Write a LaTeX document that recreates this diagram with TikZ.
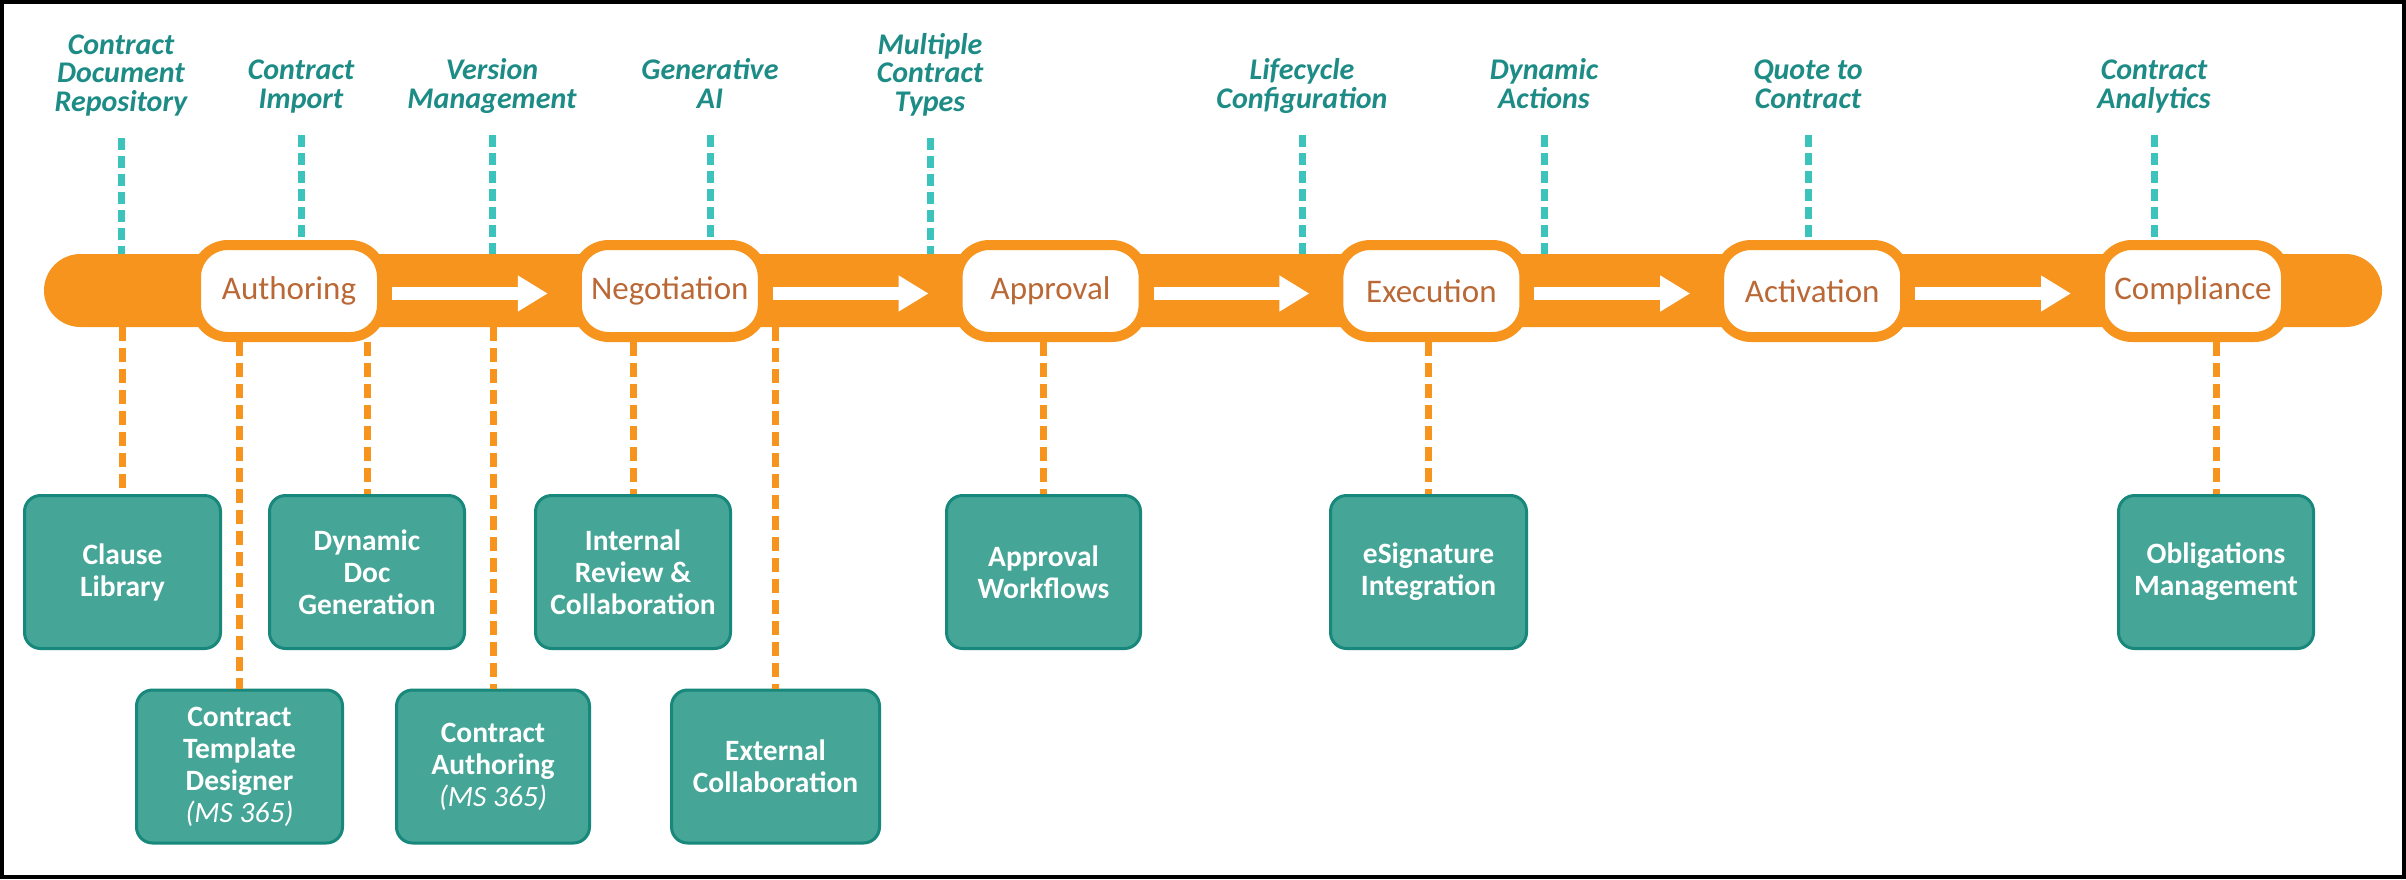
\documentclass[tikz,border=0pt]{standalone}
\usepackage{fontspec}
\setmainfont{Carlito}
\usetikzlibrary{arrows.meta}
\definecolor{bandorange}{HTML}{F7941E}
\definecolor{pilltext}{HTML}{BA6835}
\definecolor{tealtext}{HTML}{1E8C86}
\definecolor{tealdash}{HTML}{3CC4BC}
\definecolor{boxfill}{HTML}{45A596}
\definecolor{boxedge}{HTML}{17887B}
\begin{document}
\begin{tikzpicture}[x=1pt,y=-1pt,
  bandshape/.style={fill=bandorange, rounded corners=36.5pt, minimum width=2338pt, minimum height=73pt, inner sep=0pt, outer sep=0pt},
  pill/.style={draw=bandorange, fill=white, line width=10pt, rounded corners=32pt, minimum width=186pt, minimum height=92pt, inner sep=0pt, font=\fontsize{33}{36}\selectfont, text=pilltext},
  toplabel/.style={font=\fontsize{30}{28.5}\selectfont\bfseries\itshape, text=tealtext, align=center, inner sep=0pt, anchor=south},
  feature/.style={draw=boxedge, fill=boxfill, line width=3pt, rounded corners=16pt, minimum height=153pt, inner sep=0pt, text=white, align=center, font=\fontsize{29.5}{32}\selectfont\bfseries},
  tealline/.style={draw=tealdash, line width=7pt, dash pattern=on 12pt off 6pt, shorten <=18pt},
  orangeline/.style={draw=bandorange, line width=7pt, dash pattern=on 14pt off 7pt},
  flow/.style={draw=white, line width=13pt, -{Triangle[length=30pt,width=34pt]}, shorten <=5pt, shorten >=24pt},
]
\useasboundingbox (0,0) rectangle (2406,879);
\fill[white] (0,0) rectangle (2406,879);

% main band
\node[bandshape] (band) at (1213,290.5) {};

% stage pills
\node[pill] (auth)  at (289,291)    {Authoring};
\node[pill] (nego)  at (669.8,291)  {Negotiation};
\node[pill] (appr)  at (1050.6,291) {Approval};
\node[pill] (exec)  at (1431.4,291) {Execution};
\node[pill] (activ) at (1812.2,291) {Activation};
\node[pill] (compl) at (2193,291)   {Compliance};

% flow arrows
\draw[flow] ([yshift=-2.5pt]auth.east)  -- ([yshift=-2.5pt]nego.west);
\draw[flow] ([yshift=-2.5pt]nego.east)  -- ([yshift=-2.5pt]appr.west);
\draw[flow] ([yshift=-2.5pt]appr.east)  -- ([yshift=-2.5pt]exec.west);
\draw[flow] ([yshift=-2.5pt]exec.east)  -- ([yshift=-2.5pt]activ.west);
\draw[flow] ([yshift=-2.5pt]activ.east) -- ([yshift=-2.5pt]compl.west);

% top labels
\node[toplabel] (lab1) at (121,120)  {Contract\\Document\\Repository\strut};
\node[toplabel] (lab2) at (301,117)  {Contract\\Import\strut};
\node[toplabel] (lab3) at (492,117)  {Version\\Management\strut};
\node[toplabel] (lab4) at (710,117)  {Generative\\AI\strut};
\node[toplabel] (lab5) at (930,120)  {Multiple\\Contract\\Types\strut};
\node[toplabel] (lab6) at (1302,117) {Lifecycle\\Configuration\strut};
\node[toplabel] (lab7) at (1544,117) {Dynamic\\Actions\strut};
\node[toplabel] (lab8) at (1808,117) {Quote to\\Contract\strut};
\node[toplabel] (lab9) at (2154,117) {Contract\\Analytics\strut};

\draw[tealline] (lab1.south) -- (lab1.south |- band.north);
\draw[tealline] (lab2.south) -- (lab2.south |- auth.north);
\draw[tealline] (lab3.south) -- (lab3.south |- band.north);
\draw[tealline] (lab4.south) -- (lab4.south |- nego.north);
\draw[tealline] (lab5.south) -- (lab5.south |- band.north);
\draw[tealline] (lab6.south) -- (lab6.south |- band.north);
\draw[tealline] (lab7.south) -- (lab7.south |- band.north);
\draw[tealline] (lab8.south) -- (lab8.south |- activ.north);
\draw[tealline] (lab9.south) -- (lab9.south |- compl.north);

% feature boxes, row 1
\node[feature, minimum width=196pt] (clause)   at (122.5,572)  {Clause\\Library};
\node[feature, minimum width=195pt] (dyndoc)   at (367,572)    {Dynamic\\Doc\\Generation};
\node[feature, minimum width=195pt] (internal) at (633,572)    {Internal\\Review \&\\Collaboration};
\node[feature, minimum width=194pt] (apwf)     at (1043.5,572) {Approval\\Workflows};
\node[feature, minimum width=196pt] (esig)     at (1428.5,572) {eSignature\\Integration};
\node[feature, minimum width=195pt] (oblig)    at (2216,572)   {Obligations\\Management};
% row 2
\node[feature, minimum width=206pt] (template) at (239.5,766.5) {Contract\\Template\\Designer\\{\mdseries\itshape (MS 365)}};
\node[feature, minimum width=193pt] (cauth)    at (493,766.5)   {Contract\\Authoring\\{\mdseries\itshape (MS 365)}};
\node[feature, minimum width=208pt] (extcol)   at (775.5,766.5) {External\\Collaboration};

% orange dashed connectors
\draw[orangeline] (clause.north |- band.south) -- (clause.north);
\draw[orangeline] (template.north |- auth.south) -- (template.north);
\draw[orangeline] (dyndoc.north |- auth.south) -- (dyndoc.north);
\draw[orangeline] (cauth.north |- band.south) -- (cauth.north);
\draw[orangeline] (internal.north |- nego.south) -- (internal.north);
\draw[orangeline] (extcol.north |- band.south) -- (extcol.north);
\draw[orangeline] (apwf.north |- appr.south) -- (apwf.north);
\draw[orangeline] (esig.north |- exec.south) -- (esig.north);
\draw[orangeline] (oblig.north |- compl.south) -- (oblig.north);

% frame
\draw[line width=4pt, black] (2,2) rectangle (2404,877);
\end{tikzpicture}
\end{document}
